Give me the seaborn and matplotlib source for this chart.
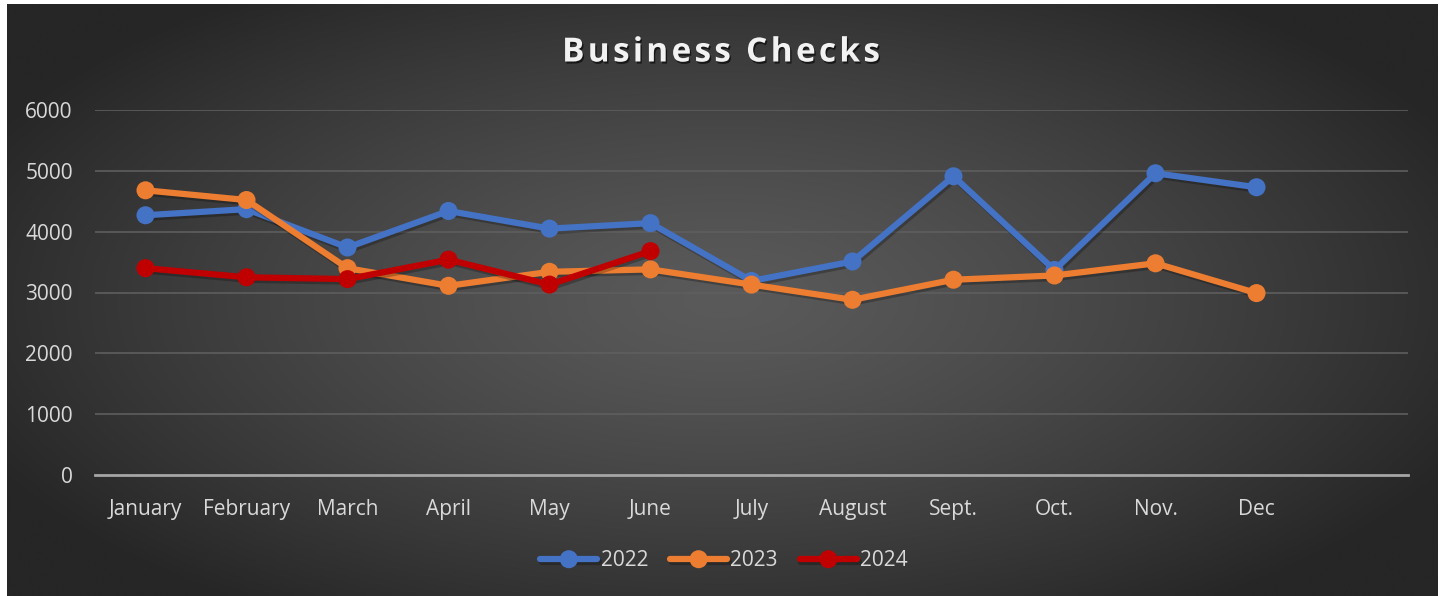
import numpy as np
import pandas as pd
import matplotlib
matplotlib.use("Agg")
import matplotlib.pyplot as plt
import matplotlib.patheffects as pe
import seaborn as sns

months = ["January", "February", "March", "April", "May", "June",
          "July", "August", "Sept.", "Oct.", "Nov.", "Dec"]
v2022 = [4270, 4370, 3740, 4340, 4050, 4140, 3190, 3510, 4910, 3370, 4960, 4730]
v2023 = [4680, 4520, 3400, 3110, 3340, 3380, 3130, 2880, 3210, 3280, 3480, 2990]
v2024 = [3400, 3250, 3220, 3540, 3130, 3680]
series = {"2022": v2022, "2023": v2023, "2024": v2024}
colors = {"2022": "#4472C4", "2023": "#ED7D31", "2024": "#C00000"}
yticks = [0, 1000, 2000, 3000, 4000, 5000, 6000]
title = "Business Checks"

rows = []
for yr, vals in series.items():
    for m, v in zip(months, vals):
        rows.append({"month": m, "idx": months.index(m), "value": v, "year": yr})
df = pd.DataFrame(rows)

sns.set_theme(style="dark")
FONT = ['Open Sans', 'DejaVu Sans']
plt.rcParams['font.family'] = FONT

W, H = 1443, 596
fig = plt.figure(figsize=(W / 100, H / 100), dpi=100)
fig.patch.set_facecolor("white")

# background panel with radial gradient
bg = fig.add_axes([7 / W, 0, (1438 - 7) / W, (596 - 4) / H])
bg.set_axis_off()
gx = np.linspace(-1, 1, 400)
gy = np.linspace(-1, 1, 200)
X, Y = np.meshgrid(gx, gy)
R = np.sqrt(X ** 2 + (Y * 0.9) ** 2)
R = np.clip(R / 1.15, 0, 1)
lo, hi = 0x26 / 255, 0x5a / 255
img = hi - (hi - lo) * R ** 1.3
bg.imshow(np.dstack([img, img, img]), aspect="auto", extent=[0, 1, 0, 1], interpolation="bicubic")
bg.set_xlim(0, 1)
bg.set_ylim(0, 1)

# plot axes: x 95..1408, y 0 at 475, 6000 at 110
ax = fig.add_axes([95 / W, (H - 475) / H, (1408 - 95) / W, (475 - 110) / H])
ax.set_facecolor("none")
ax.patch.set_alpha(0)

shadow = [pe.SimpleLineShadow(offset=(1.2, -1.8), shadow_color="black", alpha=0.25), pe.Normal()]
for yr in series:
    sub = df[df["year"] == yr]
    sns.lineplot(data=sub, x="idx", y="value", ax=ax, color=colors[yr], linewidth=4.5,
                 marker="o", markersize=13, markeredgewidth=0, label=yr, sort=False,
                 path_effects=shadow)

ax.set_xlim(-0.5, 12.5)
ax.set_ylim(0, 6000)
ax.set_yticks(yticks)
ax.set_yticklabels([str(t) for t in yticks], color="#d9d9d9", fontsize=15)
ax.set_xticks(range(len(months)))
ax.set_xticklabels(months, color="#d9d9d9", fontsize=15)
ax.tick_params(axis="both", length=0)
ax.tick_params(axis="y", pad=16)
ax.tick_params(axis="x", pad=17)
ax.set_xlabel("")
ax.set_ylabel("")
for t in yticks[1:]:
    ax.axhline(t, color="#5e5e5e", linewidth=1.2, zorder=0)
for s in ["top", "right", "left"]:
    ax.spines[s].set_visible(False)
ax.spines["bottom"].set_color("#a6a6a6")
ax.spines["bottom"].set_linewidth(2)
ax.grid(False)

leg = ax.legend(loc="center", bbox_to_anchor=((724 - 95) / (1408 - 95), (H - 561 - (H - 475)) / (475 - 110)),
                ncol=3, frameon=False, fontsize=15, handlelength=2.75, columnspacing=1.05,
                handletextpad=0.15, labelcolor="#d9d9d9")

# title with letter spacing: place characters individually
renderer = fig.canvas.get_renderer()
tsize = 24
spacing = 3.3  # px extra per char
tprops = dict(fontsize=tsize, fontweight="bold", fontfamily=FONT)
def text_w(s):
    t = fig.text(0, 0, s, **tprops)
    w = t.get_window_extent(renderer).width
    t.remove()
    return w
full_w = text_w(title) + spacing * (len(title) - 1)
x0 = 721 - full_w / 2
ty = 1 - 53 / H
for i, ch in enumerate(title):
    if ch == " ":
        continue
    xpos = x0 + (text_w(title[:i]) if i > 0 else 0) + spacing * i
    fig.text(xpos / W, ty, ch, ha="left", va="center", color="#f2f2f2", **tprops,
             path_effects=[pe.SimplePatchShadow(offset=(1, -1.5), shadow_rgbFace="black", alpha=0.6), pe.Normal()])

fig.savefig("out.png", dpi=100, facecolor=fig.get_facecolor())
